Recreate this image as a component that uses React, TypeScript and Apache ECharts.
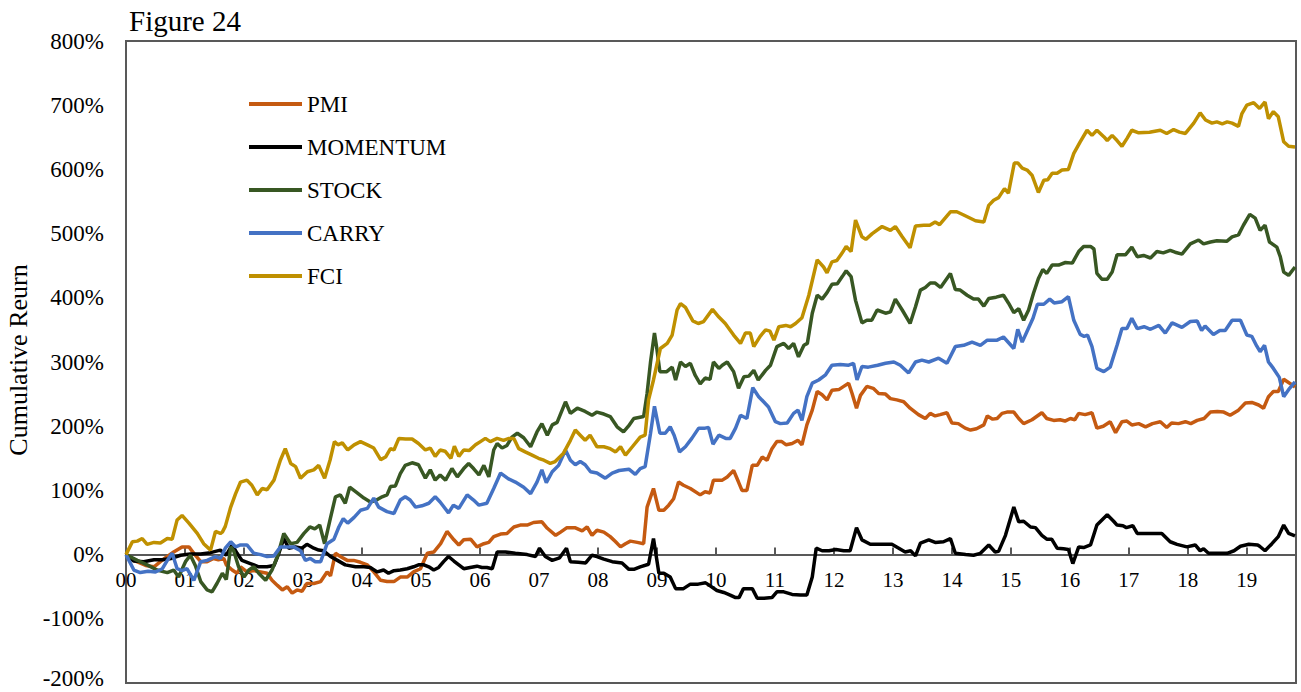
import React, { useEffect, useRef } from "react";
import * as echarts from "echarts";

// x values are months since Jan 2000 (12 per year), y values are cumulative returns in %
const yearLabels = ["00","01","02","03","04","05","06","07","08","09","10","11","12","13","14","15","16","17","18","19"];
const seriesNames = ["PMI", "MOMENTUM", "STOCK", "CARRY", "FCI"];

const pmi: [number, number][] = [[0,0],[1.6,-9],[4,-17],[5.7,-19],[7.5,-8],[9.7,4],[11.4,12],[12.8,12],[13.8,2],[15.2,-11],[16.5,-11],[17.8,-6],[18.8,-8],[19.9,-6],[20.4,-16],[21.6,-24],[22.6,-29],[23.3,-19],[24.6,-27],[26,-25],[27.4,-27],[28.7,-29],[29.7,-40],[30.8,-48],[31.8,-55],[32.8,-50],[33.8,-60],[34.8,-55],[35.8,-57],[36.8,-45],[38.2,-45],[39.6,-42],[40.9,-27],[41.6,-33],[42.6,2],[43.6,-3],[45,-9],[46.3,-9],[47.7,-12],[49.1,-16],[50.4,-27],[51.8,-40],[53.1,-42],[54.5,-42],[55.8,-35],[57.2,-35],[58.5,-27],[59.9,-22],[61.3,2],[62.6,4],[64,17],[65.3,36],[66.7,23],[67.7,15],[68.7,23],[70.1,24],[71.4,12],[72.8,17],[73.8,19],[74.8,28],[76.2,32],[77.5,33],[78.9,43],[80.2,46],[81.6,46],[82.9,50],[84.6,51],[85.7,41],[87.4,30],[88.4,35],[89.7,42],[91.3,42],[92.8,37],[93.8,43],[94.8,30],[95.8,38],[97.2,35],[98.5,28],[99.6,20],[100.6,12],[101.6,17],[102.6,21],[104,19],[105.3,17],[106,74],[107.3,103],[108.4,69],[109.4,69],[110.4,77],[111.4,87],[112.4,113],[113.4,108],[114.8,103],[116.8,93],[117.8,98],[118.8,96],[119.5,116],[121.3,116],[122.3,121],[123.6,131],[124.6,113],[125.3,100],[126.3,100],[127.4,139],[128.4,139],[129.4,152],[130.4,147],[131.4,165],[132.4,176],[133.4,176],[134.3,171],[135.5,173],[136.7,178],[137.5,171],[138.5,202],[139.6,225],[140.6,254],[141.6,249],[142.6,241],[143.6,256],[145,257],[146,262],[147,267],[147.7,251],[148.6,228],[149.4,248],[150.7,262],[152,259],[153.1,251],[154.5,250],[155.5,243],[156.8,241],[158.2,238],[159.5,228],[161.2,218],[162.6,212],[163.6,220],[164.6,216],[165.6,218],[167,221],[168,205],[169.3,204],[170.7,197],[171.8,194],[173,196],[174.5,202],[175.2,216],[176.3,211],[177.2,212],[178.2,220],[179.2,222],[180.6,222],[181.6,212],[182.6,204],[184.3,210],[186.3,221],[187.3,212],[188.7,209],[190,210],[191,208],[192.1,212],[193,210],[193.8,220],[195.1,218],[196.5,221],[197.5,197],[198.8,200],[200.2,207],[201.3,190],[202.6,207],[203.6,208],[204.6,202],[206,204],[207.4,199],[208.8,204],[210.4,207],[211.7,198],[212.7,205],[214.1,204],[215.5,207],[216.6,204],[217.9,209],[219.3,212],[220.6,222],[222,223],[223.3,222],[224.6,217],[226.3,225],[227.7,236],[229,237],[230.4,233],[231.4,228],[232.4,246],[233.4,254],[234.4,254],[235.5,273],[236.7,267],[237.8,261]];

const momentum: [number, number][] = [[0,0],[1.6,-10],[3.6,-11],[5.7,-8],[7.4,-8],[9.2,-6],[11.1,-1],[13.1,1],[15.2,1],[17.2,3],[19.2,7],[20.4,-1],[21.6,15],[22.6,2],[23.6,-9],[25.3,-14],[27,-19],[28.7,-19],[30.1,-17],[31.1,2],[32.1,25],[33.1,10],[34.5,12],[35.8,10],[36.8,16],[38.2,10],[39.2,7],[40.2,6],[41.6,-3],[43,-9],[44.6,-16],[46.7,-19],[48.4,-19],[49.7,-20],[51.1,-27],[52.4,-24],[53.4,-29],[54.5,-25],[55.8,-24],[57.2,-22],[58.5,-19],[59.5,-16],[60.6,-16],[61.6,-19],[62.6,-24],[63.6,-20],[64.6,-11],[65.6,-3],[66.7,-10],[67.7,-16],[68.7,-22],[70,-20],[71.4,-18],[72.4,-20],[73.4,-20],[74.5,-22],[75.5,4],[77.2,4],[79.2,2],[81.6,0],[83.3,-3],[84.1,10],[85.3,-3],[86.7,-9],[88.2,-5],[89.6,10],[90.4,-11],[92,-12],[93.5,-13],[94.8,-1],[95.8,-3],[97.2,-7],[98.9,-11],[100.9,-13],[102.3,-23],[103.3,-23],[104.6,-19],[106.3,-15],[107.3,25],[108.4,-29],[109.4,-29],[110.7,-35],[111.8,-53],[113.4,-53],[114.8,-46],[116.4,-46],[117.9,-44],[118.9,-49],[120.2,-56],[121.6,-59],[122.9,-63],[124,-67],[124.7,-67],[125.6,-53],[127.4,-53],[128.4,-68],[129.8,-68],[131.4,-67],[132.4,-58],[133.8,-58],[135.5,-62],[137.2,-63],[138.5,-63],[139.6,-35],[140.4,10],[141.6,6],[143,6],[144.4,8],[146,6],[147.3,6],[148.6,42],[149.7,23],[151.4,16],[155.8,16],[157.2,10],[158.5,4],[159.6,6],[160.6,-2],[161.6,18],[163.3,23],[164.6,19],[166.3,20],[167.7,25],[168.7,2],[170.8,0],[172.4,-1],[173.8,2],[175.5,15],[176.8,4],[177.5,5],[178.9,30],[180.6,74],[181.6,51],[182.6,52],[184,43],[185,42],[186.3,30],[187.3,24],[188.3,24],[189.4,10],[190.7,9],[191.7,8],[192.6,-14],[193.8,12],[194.8,11],[196.2,15],[197.5,46],[199.6,62],[200.9,52],[201.6,46],[202.8,45],[203.5,42],[204.8,45],[205.7,33],[208.4,33],[210.7,33],[212.4,20],[213.8,16],[215.8,12],[217.5,15],[218.5,6],[219.2,9],[220.2,2],[222,2],[224,2],[225.4,6],[226.7,13],[228.4,16],[230.2,15],[230.6,13],[231.7,6],[233.1,17],[234.4,28],[235.5,46],[236.5,33],[237.8,29]];

const stock: [number, number][] = [[0,0],[2.3,-9],[4.3,-16],[6.3,-24],[8.4,-28],[9.7,-24],[10.7,-35],[12.1,-11],[13.1,-1],[14.1,-17],[15.2,-42],[16.5,-55],[17.5,-58],[18.5,-45],[19.6,-29],[20.4,-39],[21.3,12],[21.9,6],[22.9,-19],[24,-35],[25,-24],[26,-19],[27,-29],[28.4,-40],[29.7,-24],[30.8,-3],[32.1,33],[33.5,17],[34.8,19],[36.2,33],[37.4,43],[38.4,40],[39.4,46],[40.4,17],[41.5,54],[42.6,90],[43.6,93],[44.6,80],[45.5,105],[46.7,98],[48.4,88],[49.7,82],[50.7,84],[52.1,90],[53.1,93],[53.8,106],[54.8,107],[55.8,126],[56.8,139],[58.2,143],[59.5,140],[60.9,119],[61.9,132],[62.9,116],[63.9,124],[65,116],[66.3,134],[67.4,121],[68.7,134],[69.7,142],[70.7,134],[71.8,124],[72.8,139],[73.8,121],[74.8,163],[75.5,173],[76.5,166],[77.5,170],[78.5,183],[79.6,189],[80.9,182],[82.3,168],[83.6,191],[84.6,204],[85.7,186],[86.7,202],[87.7,206],[89.4,238],[90.4,220],[91.8,228],[93.4,223],[94.8,217],[95.8,222],[97.2,219],[98.5,215],[99.9,199],[101.2,191],[102.2,200],[103.3,212],[105.3,215],[106,251],[106.7,300],[107.5,345],[108,320],[108.6,285],[110,285],[111.1,292],[111.8,272],[112.8,300],[113.8,293],[114.8,298],[115.8,279],[116.8,266],[117.8,275],[118.8,273],[119.5,300],[120.6,290],[121.3,295],[122.3,300],[123.6,285],[124.6,259],[125.7,277],[126.7,278],[127.7,287],[128.6,272],[130.1,287],[131.1,295],[132.4,324],[133.8,329],[134.8,321],[135.8,329],[136.8,308],[137.9,326],[138.6,329],[139.6,376],[140.6,404],[141.6,398],[142.6,408],[143.6,421],[144.7,422],[145.7,433],[146.5,442],[147.5,433],[148.4,396],[149.7,361],[150.7,365],[151.7,365],[152.8,381],[154.5,376],[155.5,378],[156.5,398],[157.9,381],[159.5,360],[160.6,386],[161.6,412],[162.6,416],[163.6,423],[164.6,423],[165.7,416],[166.7,427],[167.7,438],[168.7,413],[169.7,412],[171.1,404],[172.4,398],[173.4,398],[174.5,387],[175.5,399],[177,401],[178.5,404],[179.5,392],[180.6,377],[181.6,383],[182.6,365],[183.6,381],[184.6,407],[185.6,430],[186.5,444],[187.3,438],[188.4,451],[189.7,451],[191.1,455],[192.5,454],[193.8,472],[194.8,480],[196.2,480],[196.9,476],[197.5,438],[198.5,429],[199.6,429],[200.6,440],[201.6,467],[203.3,467],[204.6,479],[205.7,464],[207,466],[208.4,462],[209.7,472],[211,470],[212.4,474],[213.4,471],[214.8,468],[216.5,484],[218.2,490],[219.2,484],[220.6,487],[221.9,489],[223.9,488],[225,495],[226.3,498],[227.3,513],[228.6,530],[229.7,524],[230.7,505],[231.7,513],[232.6,487],[234.1,479],[234.8,464],[235.5,440],[236.5,435],[237.8,448]];

const carry: [number, number][] = [[0,0],[1.6,-24],[2.9,-28],[4.5,-26],[6,-27],[7.4,-22],[8.4,-9],[9.4,2],[10.4,-22],[11.4,-25],[12.4,-22],[13.8,-40],[15.2,-11],[16.5,-9],[18.2,-3],[19.2,-6],[20.2,10],[21.3,20],[22.3,12],[23.3,15],[24.6,15],[26,2],[27.4,0],[28.7,-3],[30.1,-2],[31.4,12],[32.7,12],[34.1,12],[35.5,6],[36.5,-9],[37.5,-6],[38.5,-11],[39.6,-11],[40.9,17],[42.3,24],[43.3,43],[44.2,56],[45.1,49],[46.4,58],[47.7,69],[49.1,72],[50.4,88],[51.4,74],[53.1,67],[54.5,64],[55.8,85],[56.8,90],[57.8,85],[58.9,74],[60.2,76],[61.6,80],[62.9,90],[63.9,82],[65.6,65],[66.6,77],[67.7,72],[69.4,93],[70.7,85],[71.8,77],[73.4,80],[74.8,103],[76.2,127],[77.8,118],[79.2,113],[80.9,105],[82.3,95],[83.6,113],[84.6,132],[85.5,112],[86.7,129],[88,139],[89.4,163],[90.4,147],[91.4,140],[92.4,145],[93.4,140],[94.5,129],[95.8,127],[97.5,119],[98.9,127],[100.3,131],[102.3,133],[103.6,125],[104.6,134],[105.6,137],[106.7,189],[107.5,231],[108.6,189],[109.7,189],[110.7,199],[111.5,186],[112.6,160],[113.8,168],[115.1,181],[116.5,197],[117.8,197],[118.5,198],[119.4,172],[120.6,186],[122,181],[122.9,181],[124,197],[125,217],[126.3,212],[127.5,260],[128.7,246],[129.7,238],[130.7,230],[132.1,207],[133.1,204],[134.5,205],[135.8,220],[136.7,225],[137.5,209],[138.5,246],[139.6,267],[140.9,272],[142.3,280],[143.6,295],[145.3,296],[147,295],[148,298],[148.7,272],[149.7,293],[151,292],[152.9,295],[154.5,298],[156.2,300],[157.5,295],[159.2,283],[160.6,300],[161.9,303],[163.3,300],[165.3,306],[167,298],[168.7,324],[170.4,326],[172.1,331],[173.8,326],[175.2,334],[177.2,334],[178.5,339],[180.6,321],[181.4,351],[182.3,331],[183.3,348],[184.5,368],[185.4,390],[186.7,390],[187.9,398],[188.8,392],[190.4,394],[191.7,402],[192.8,365],[194.1,343],[194.9,340],[195.6,342],[196.5,324],[197.5,290],[198.9,285],[200.2,292],[201.6,326],[202.6,352],[203.6,352],[204.6,368],[205.7,352],[207.1,355],[208.4,351],[210.1,357],[211.4,345],[212.8,361],[214.8,354],[216.5,363],[217.9,364],[218.8,349],[219.5,356],[221.2,343],[222.5,349],[223.6,349],[225,365],[226.7,365],[228,342],[229,340],[230,325],[230.7,316],[231.6,326],[232.4,300],[233.4,290],[234.6,276],[235.5,246],[236.7,259],[237.8,269]];

const fci: [number, number][] = [[0,0],[1.3,20],[2.3,21],[3.3,25],[4.3,16],[5.7,19],[7,18],[8.4,25],[9.4,24],[10.4,54],[11.4,61],[12.8,49],[14.5,33],[15.8,17],[17.2,7],[18.2,36],[19.2,33],[19.6,35],[20.2,44],[21.3,74],[22.3,95],[23.3,113],[24.6,116],[25.6,108],[26.7,93],[27.7,103],[28.7,101],[30.1,116],[31.4,147],[32.4,165],[33.5,142],[34.5,137],[35.5,119],[36.9,129],[38.2,132],[39.2,139],[40.4,119],[41.5,147],[42.4,176],[43.1,171],[44,174],[45.1,163],[46.4,171],[47.7,176],[49.1,171],[50.4,166],[51.8,148],[52.8,152],[53.8,165],[54.5,163],[55.5,181],[56.9,180],[58.2,180],[59.5,173],[60.9,163],[61.9,166],[62.9,153],[63.9,163],[64.9,161],[66.1,150],[66.8,169],[67.7,153],[68.7,163],[69.8,162],[71.1,171],[72.1,176],[73.1,181],[74.1,176],[75.5,181],[76.8,178],[77.9,181],[78.9,181],[79.9,165],[81.2,160],[82.6,155],[83.9,150],[85,147],[86.3,142],[87.3,145],[89,158],[90.4,178],[91.4,194],[92.4,186],[93.4,178],[94.4,186],[95.8,168],[97.2,168],[98.5,165],[99.6,160],[100.6,168],[101.6,155],[103,168],[104.6,183],[105.6,186],[106.3,241],[107.3,272],[108.7,321],[110.1,329],[111.1,342],[112.1,381],[112.8,391],[113.8,385],[115.3,364],[116.4,360],[117.5,363],[119.3,382],[120.6,370],[121.9,360],[123.6,342],[125,329],[126,345],[127,345],[127.7,324],[129,340],[130.1,350],[131,348],[131.8,334],[132.8,355],[134.2,357],[135.2,355],[136.2,360],[137.5,369],[138.9,404],[140.6,459],[141.9,448],[142.6,439],[143.6,456],[144.6,458],[145.7,470],[146.5,480],[147.5,472],[148.4,521],[149.7,495],[150.5,491],[151.8,500],[153.8,511],[155.5,505],[156.5,511],[157.9,495],[159.5,478],[160.6,512],[162.3,513],[163.5,513],[164.6,518],[165.5,514],[167.7,534],[169,534],[170.4,529],[172.8,520],[174.5,518],[175.5,544],[176.5,552],[177.5,556],[178.7,570],[179.5,563],[180.7,610],[181.4,610],[182.3,602],[183.3,599],[184.3,591],[185.6,564],[186.7,583],[187.5,584],[188.4,594],[189.4,594],[190.4,599],[191.7,600],[192.8,625],[194.1,643],[195.5,661],[196.5,653],[197.5,661],[198.9,651],[199.6,645],[200.6,653],[201.6,645],[202.6,636],[203.6,648],[204.6,661],[206,657],[208.2,658],[210.4,661],[211.7,656],[213.1,662],[214.3,658],[215.5,656],[217.2,672],[218.5,688],[219.6,677],[220.9,672],[221.9,674],[223,671],[224,674],[225,672],[226.3,667],[227,687],[228,700],[229.4,704],[230.6,695],[231.7,705],[232.4,679],[233.4,690],[234.4,682],[235.5,643],[236.5,636],[237.8,635]];

const seriesData = [pmi, momentum, stock, carry, fci];
const colors = ["#C55A11", "#000000", "#385723", "#4472C4", "#BF9000"];

const FONT = "'Liberation Serif', 'Times New Roman', serif";

// plot area in pixels
const GRID_LEFT = 126;
const GRID_TOP = 41;
const GRID_W = 1170;
const GRID_H = 642;
const Y_MIN = -200;
const Y_MAX = 800;
// the x axis sits on the 0% line: shift it up from the bottom edge
const ZERO_OFFSET = -(GRID_H * (0 - Y_MIN)) / (Y_MAX - Y_MIN);

export default function App() {
  const ref = useRef<HTMLDivElement>(null);
  useEffect(() => {
    if (!ref.current) return;
    const chart = echarts.init(ref.current, undefined, { renderer: "svg" });
    chart.setOption({
      animation: false,
      backgroundColor: "#ffffff",
      grid: {
        left: GRID_LEFT, top: GRID_TOP, width: GRID_W, height: GRID_H,
        outerBoundsMode: "none", containLabel: false,
        show: true, borderColor: "#595959", borderWidth: 2, backgroundColor: "transparent",
      },
      legend: {
        orient: "vertical", left: 249, top: 91, padding: 0,
        itemWidth: 53, itemHeight: 4, itemGap: 17, icon: "rect",
        data: seriesNames,
        textStyle: { fontFamily: FONT, fontSize: 23, color: "#000", lineHeight: 26 },
      },
      xAxis: {
        type: "value", min: 0, max: 238, interval: 12,
        position: "bottom", offset: ZERO_OFFSET,
        axisLine: { show: true, onZero: false, lineStyle: { color: "#595959", width: 2 } },
        axisTick: { show: true, inside: true, length: 7, lineStyle: { color: "#595959", width: 2 } },
        axisLabel: {
          fontFamily: FONT, fontSize: 21, color: "#000", margin: 15,
          showMaxLabel: false,
          formatter: (v: number) => (v % 12 === 0 && v / 12 < yearLabels.length ? yearLabels[v / 12] : ""),
        },
        splitLine: { show: false },
      },
      yAxis: {
        type: "value", min: Y_MIN, max: Y_MAX, interval: 100,
        axisLine: { show: false, onZero: false },
        axisTick: { show: false },
        axisLabel: {
          fontFamily: FONT, fontSize: 23, lineHeight: 17, color: "#000", margin: 22,
          formatter: (v: number) => (v === Y_MIN ? `{low|${v}%}` : `${v}%`),
          rich: { low: { fontFamily: FONT, fontSize: 23, lineHeight: 17, color: "#000", padding: [0, 0, 10, 0] } },
        },
        splitLine: { show: false },
      },
      graphic: [
        { type: "text", x: 129, y: 21, style: { text: "Figure 24", fontFamily: FONT, fontSize: 29, fill: "#000", verticalAlign: "middle", align: "left" } },
        { type: "text", x: 18, y: 360, rotation: Math.PI / 2, style: { text: "Cumulative Reurn", fontFamily: FONT, fontSize: 26, fill: "#000", verticalAlign: "middle", align: "center" } },
      ],
      series: seriesNames.map((name, i) => ({
        name, type: "line", data: seriesData[i], showSymbol: false, symbol: "none",
        color: colors[i],
        lineStyle: { color: colors[i], width: 3.5 },
        emphasis: { disabled: true },
      })),
    });
    return () => chart.dispose();
  }, []);
  return <div ref={ref} style={{ position: "absolute", left: 0, top: 0, width: 1301, height: 692, background: "#fff" }} />;
}
